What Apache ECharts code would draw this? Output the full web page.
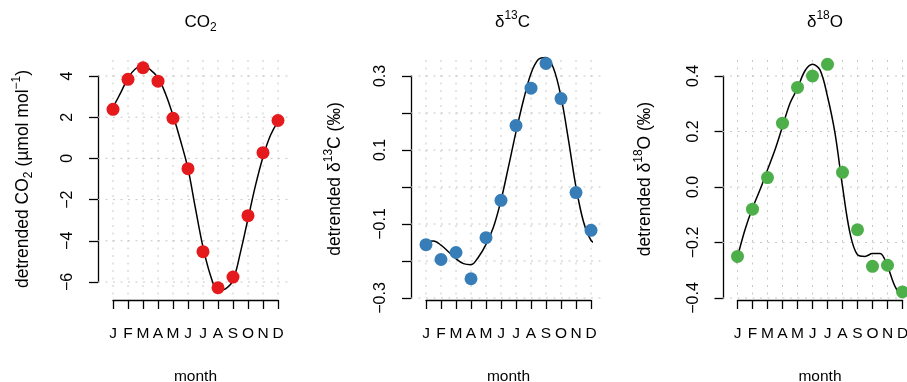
<!DOCTYPE html>
<html>
<head>
<meta charset="utf-8">
<script src="https://cdn.jsdelivr.net/npm/echarts@6/dist/echarts.min.js"></script>
<style>html,body{margin:0;padding:0;background:#fff;}#c{width:907px;height:382px;}</style>
</head>
<body>
<div id="c"></div>
<script>
// ---- data ----
const monthLabels = ['J','F','M','A','M','J','J','A','S','O','N','D'];
const monthIdx = [1,2,3,4,5,6,7,8,9,10,11,12];

const co2Points = [2.38, 3.84, 4.40, 3.75, 1.95, -0.50, -4.53, -6.28, -5.76, -2.78, 0.28, 1.84];
const d13Points = [-0.156, -0.196, -0.177, -0.248, -0.137, -0.036, 0.166, 0.267, 0.334, 0.239, -0.015, -0.117];
const d18Points = [-0.250, -0.080, 0.034, 0.230, 0.359, 0.400, 0.442, 0.053, -0.154, -0.286, -0.282, -0.378];

const curveX = [0.5,1,1.5,2,2.5,3,3.5,4,4.5,5,5.5,6,6.5,7,7.5,8,8.5,9,9.5,10,10.5,11,11.5,12,12.5];
const co2Curve = [2.02, 2.50, 3.17, 3.90, 4.35, 4.50, 4.30, 3.92, 3.14, 2.09, 0.87, -0.50, -2.44, -4.30, -5.68, -6.42, -6.33, -5.92, -4.55, -2.93, -1.31, 0.07, 1.12, 1.76, 2.04];
const d13Curve = [-0.156, -0.148, -0.146, -0.157, -0.175, -0.194, -0.207, -0.210, -0.189, -0.155, -0.108, -0.036, 0.055, 0.149, 0.235, 0.307, 0.345, 0.350, 0.321, 0.244, 0.127, 0.000, -0.094, -0.144, -0.156];
const d18Curve = [-0.340, -0.250, -0.154, -0.076, -0.010, 0.062, 0.134, 0.218, 0.302, 0.356, 0.419, 0.442, 0.422, 0.326, 0.194, 0.002, -0.166, -0.244, -0.250, -0.240, -0.240, -0.286, -0.358, -0.394, -0.340];

const co2Ticks = [-6, -4, -2, 0, 2, 4];
const d13Ticks = [-0.3, -0.2, -0.1, 0.0, 0.1, 0.2, 0.3];
const d18Ticks = [-0.4, -0.2, 0.0, 0.2, 0.4];
const co2TickLabels = ['\u22126', '\u22124', '\u22122', '0', '2', '4'];
const d13TickLabels = ['\u22120.3', '', '\u22120.1', '', '0.1', '', '0.3'];
const d18TickLabels = ['\u22120.4', '\u22120.2', '0.0', '0.2', '0.4'];

const titles = ['CO{sub|2}', '\u03b4{sup|13}C', '\u03b4{sup|18}O'];
const yNames = ['detrended CO{sub|2} (\u00b5mol mol{sup|\u22121})', 'detrended \u03b4{sup|13}C (\u2030)', 'detrended \u03b4{sup|18}O (\u2030)'];
const xName = 'month';
const colors = ['#E41A1C', '#377EB8', '#4DAF4A'];

// ---- layout ----
const FONT = "'Liberation Sans', Arial, Helvetica, sans-serif";
function richFor(size) {
  return {
    sup: {fontSize: size, lineHeight: size, verticalAlign: 'top', fontFamily: FONT, color: '#000', fill: '#000'},
    sub: {fontSize: size, lineHeight: size, verticalAlign: 'bottom', fontFamily: FONT, color: '#000', fill: '#000'}
  };
}
const panels = [
  {left: 113, height: 206, yOff: 15, xOff: 18, center: 195.5, nameX: 23, points: co2Points, curve: co2Curve, ticks: co2Ticks, tickLabels: co2TickLabels, step: 2},
  {left: 426, height: 222, yOff: 15, xOff: 2, center: 507.5, nameX: 335, points: d13Points, curve: d13Curve, ticks: d13Ticks, tickLabels: d13TickLabels, step: 0.1},
  {left: 737.5, height: 222, yOff: 14, xOff: 2, center: 820, nameX: 645, points: d18Points, curve: d18Curve, ticks: d18Ticks, tickLabels: d18TickLabels, step: 0.2}
];
const TOP = 76, WIDTH = 165, PAD_TOP = 16, PAD_X = 15, REGION_BOTTOM = 300, NAME_Y = 179;

const option = {
  animation: false,
  backgroundColor: '#fff',
  textStyle: {fontFamily: FONT},
  title: panels.map((p, i) => ({
    text: titles[i], left: p.center, top: 5, textAlign: 'center',
    textStyle: {fontFamily: FONT, fontSize: 17, fontWeight: 'normal', color: '#000', lineHeight: 24, rich: richFor(12)}
  })),
  graphic: panels.map((p, i) => ({
    type: 'text', x: p.nameX, y: NAME_Y, rotation: Math.PI / 2, silent: true,
    style: {text: yNames[i], fontSize: 17.5, fontFamily: FONT, fill: '#000', lineHeight: 24,
      align: 'center', verticalAlign: 'middle', textAlign: 'center', textVerticalAlign: 'middle', rich: richFor(12)}
  })),
  grid: panels.map(p => ({left: p.left, top: TOP, width: WIDTH, height: p.height, outerBoundsMode: 'none', containLabel: false})),
  xAxis: panels.map((p, i) => ({
    gridIndex: i, type: 'value', min: 1, max: 12, interval: 1, offset: p.xOff,
    axisLine: {show: true, onZero: false, lineStyle: {color: '#000', width: 1.3}},
    axisTick: {show: true, length: 9, lineStyle: {color: '#000', width: 1.3}},
    axisLabel: {show: true, margin: 26, fontSize: 15.5, color: '#000', fontFamily: FONT,
      formatter: v => monthLabels[monthIdx.indexOf(v)] || ''},
    splitLine: {show: false},
    name: xName, nameLocation: 'middle', nameGap: 69,
    nameTextStyle: {fontSize: 15.5, color: '#000', fontFamily: FONT}
  })),
  yAxis: panels.map((p, i) => ({
    gridIndex: i, type: 'value', min: p.ticks[0], max: p.ticks[p.ticks.length - 1], interval: p.step, offset: p.yOff,
    axisLine: {show: true, onZero: false, lineStyle: {color: '#000', width: 1.3}},
    axisTick: {show: true, length: 9, lineStyle: {color: '#000', width: 1.3}},
    axisLabel: {show: true, rotate: 90, margin: 22, fontSize: 16, color: '#000', fontFamily: FONT,
      formatter: v => { let k = -1, best = 1e9; p.ticks.forEach((t, j) => { const d = Math.abs(t - v); if (d < best) { best = d; k = j; } }); return p.tickLabels[k]; }},
    splitLine: {show: false}
  })),
  series: []
};

panels.forEach((p, i) => {
  const gridData = monthIdx.map(m => [0, m]).concat(p.ticks.map(t => [1, t]));
  option.series.push({
    type: 'custom', xAxisIndex: i, yAxisIndex: i, silent: true, z: 1, clip: false,
    data: gridData,
    encode: {x: -1, y: -1},
    renderItem: function (params, api) {
      const cs = params.coordSys;
      const kind = api.value(0), v = api.value(1);
      let shape;
      if (kind === 0) {
        const x = api.coord([v, p.ticks[0]])[0];
        shape = {x1: x, y1: cs.y - PAD_TOP, x2: x, y2: REGION_BOTTOM};
      } else {
        const y = api.coord([1, v])[1];
        shape = {x1: cs.x - PAD_X, y1: y, x2: cs.x + cs.width + PAD_X, y2: y};
      }
      return {type: 'line', shape: shape, style: {stroke: '#c8c8c8', lineWidth: 1, lineDash: [2, 5.5]}};
    }
  });
  option.series.push({
    type: 'line', xAxisIndex: i, yAxisIndex: i, z: 2, clip: false, smooth: 0.35,
    showSymbol: false, silent: true,
    lineStyle: {color: '#000', width: 1.5},
    data: curveX.map((x, j) => [x, p.curve[j]])
  });
  option.series.push({
    type: 'scatter', xAxisIndex: i, yAxisIndex: i, z: 3, clip: false, silent: true,
    symbolSize: 13, itemStyle: {color: colors[i], opacity: 1},
    data: monthIdx.map((m, j) => [m, p.points[j]])
  });
});

const chart = echarts.init(document.getElementById('c'), null, {renderer: 'canvas'});
chart.setOption(option);
</script>
</body>
</html>
